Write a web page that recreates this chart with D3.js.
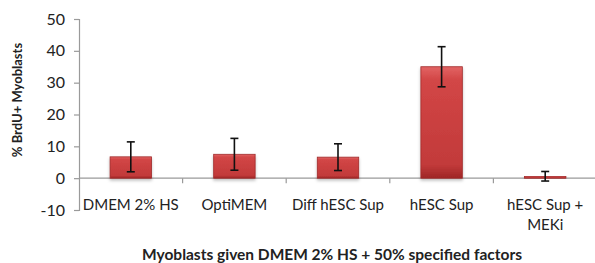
<!DOCTYPE html>
<html>
<head>
<meta charset="utf-8">
<script src="https://cdn.jsdelivr.net/npm/d3@7"></script>
<style>
  body { margin: 0; background: #fff; }
  svg text { font-family: Lato, "Open Sans", sans-serif; fill: #222; }
</style>
</head>
<body>
<div class="chart"></div>
<script>
const categories = ["DMEM 2% HS", "OptiMEM", "Diff hESC Sup", "hESC Sup", "hESC Sup + MEKi"];
const labelLines = [["DMEM 2% HS"], ["OptiMEM"], ["Diff hESC Sup"], ["hESC Sup"], ["hESC Sup +", "MEKi"]];
const values = [6.7, 7.5, 6.6, 35.0, 0.6];
const errors = [4.7, 5.0, 4.2, 6.3, 1.5];
const yTicks = [-10, 0, 10, 20, 30, 40, 50];

const width = 595;
const height = 263;

const svg = d3
  .select(".chart")
  .append("svg")
  .attr("width", width)
  .attr("height", height);

const defs = svg.append("defs");
const grad = defs
  .append("linearGradient")
  .attr("id", "barFill")
  .attr("x1", 0).attr("y1", 0).attr("x2", 0).attr("y2", 1);
grad.append("stop").attr("offset", "0%").attr("stop-color", "#e26464");
grad.append("stop").attr("offset", "12%").attr("stop-color", "#d24646");
grad.append("stop").attr("offset", "88%").attr("stop-color", "#c23a3a");
grad.append("stop").attr("offset", "100%").attr("stop-color", "#9e2626");

const shadow = defs.append("filter").attr("id", "shadow").attr("height", "140%");
shadow
  .append("feDropShadow")
  .attr("dx", 0)
  .attr("dy", 2)
  .attr("stdDeviation", 1.5)
  .attr("flood-color", "#000")
  .attr("flood-opacity", 0.25);

const x = d3
  .scaleBand()
  .domain(categories)
  .range([79, 597])
  .paddingInner(0.6)
  .paddingOuter(0.3);

const y = d3.scaleLinear().domain([-10, 50]).range([210, 19]);

// y axis
const yAxis = d3
  .axisLeft(y)
  .tickValues(yTicks)
  .tickFormat(d => String(d))
  .tickSize(5)
  .tickPadding(9);
const gy = svg.append("g").attr("transform", "translate(79,0)").call(yAxis);
gy.select(".domain").attr("stroke", "#9a9a9a").attr("stroke-width", 1.2);
gy.selectAll(".tick line").attr("stroke", "#9a9a9a").attr("stroke-width", 1.2);
gy.selectAll(".tick text").style("font-size", "16px").attr("fill", "#222");

// zero line with category ticks
svg
  .append("line")
  .attr("x1", 79)
  .attr("x2", 597)
  .attr("y1", y(0))
  .attr("y2", y(0))
  .attr("stroke", "#9a9a9a")
  .attr("stroke-width", 1.2);
svg
  .selectAll(".cat-tick")
  .data(categories.slice(1))
  .enter()
  .append("line")
  .attr("class", "cat-tick")
  .attr("x1", d => x(d) - (x.step() * x.paddingInner()) / 2)
  .attr("x2", d => x(d) - (x.step() * x.paddingInner()) / 2)
  .attr("y1", y(0))
  .attr("y2", y(0) + 5)
  .attr("stroke", "#9a9a9a")
  .attr("stroke-width", 1.2);

// bars
svg
  .append("g")
  .selectAll("rect")
  .data(categories)
  .enter()
  .append("rect")
  .attr("x", d => x(d))
  .attr("y", (d, i) => y(values[i]))
  .attr("width", x.bandwidth())
  .attr("height", (d, i) => y(0) - y(values[i]))
  .attr("fill", "url(#barFill)")
  .attr("stroke", "#a02a2a")
  .attr("stroke-width", 0.8)
  .attr("filter", "url(#shadow)");

// error bars
const err = svg.append("g").attr("stroke", "#111").attr("stroke-width", 1.6);
categories.forEach((c, i) => {
  const cx = x(c) + x.bandwidth() / 2;
  const top = y(values[i] + errors[i]);
  const bot = y(values[i] - errors[i]);
  err.append("line").attr("x1", cx).attr("x2", cx).attr("y1", top).attr("y2", bot);
  err.append("line").attr("x1", cx - 4).attr("x2", cx + 4).attr("y1", top).attr("y2", top);
  err.append("line").attr("x1", cx - 4).attr("x2", cx + 4).attr("y1", bot).attr("y2", bot);
});

// category labels
categories.forEach((c, i) => {
  const t = svg
    .append("text")
    .attr("x", x(c) + x.bandwidth() / 2)
    .attr("y", 210)
    .attr("text-anchor", "middle")
    .style("font-size", "15px");
  labelLines[i].forEach((line, j) => {
    t.append("tspan")
      .attr("x", x(c) + x.bandwidth() / 2)
      .attr("dy", j === 0 ? 0 : 20)
      .text(line);
  });
});

// axis titles
svg
  .append("text")
  .attr("transform", "translate(22,100) rotate(-90)")
  .attr("text-anchor", "middle")
  .style("font-size", "13px")
  .style("font-weight", "bold")
  .text("% BrdU+ Myoblasts");

svg
  .append("text")
  .attr("x", 332)
  .attr("y", 260)
  .attr("text-anchor", "middle")
  .style("font-size", "15.5px")
  .style("font-weight", "bold")
  .text("Myoblasts given DMEM 2% HS + 50% specified factors");
</script>
</body>
</html>
